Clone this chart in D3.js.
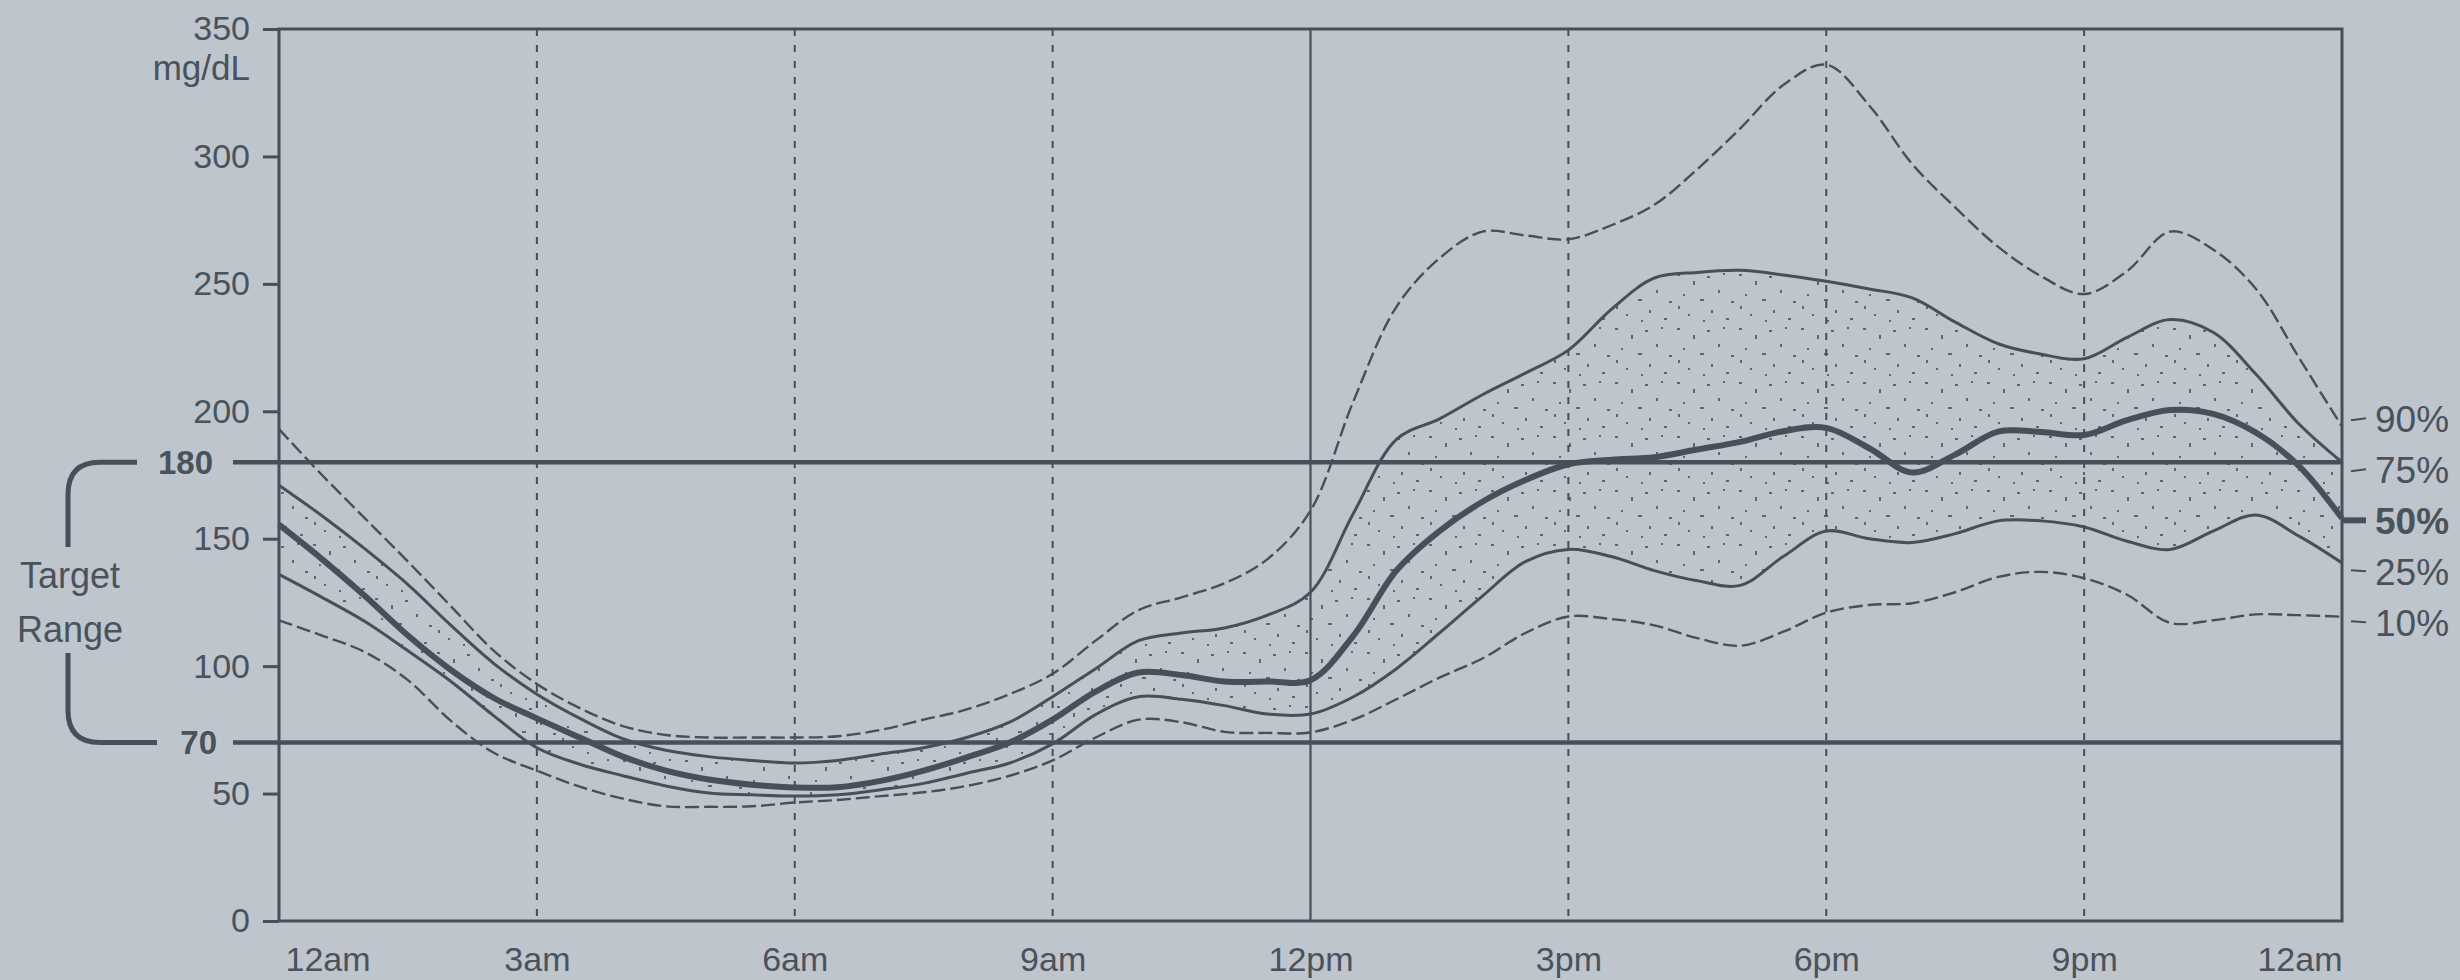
<!DOCTYPE html>
<html><head><meta charset="utf-8">
<script src="https://cdn.jsdelivr.net/npm/d3@7"></script>
<style>
html,body{margin:0;padding:0;background:#bec5cd;}
svg{display:block;}
text{font-family:"Liberation Sans",Arial,sans-serif;fill:#4a525b;}
</style></head><body>
<svg id="chart" width="2460" height="980"></svg>
<script>
// ---------- data ----------
const hours = [0,0.5,1,1.5,2,2.5,3,3.5,4,4.5,5,5.5,6,6.5,7,7.5,8,8.5,9,9.5,10,10.5,11,11.5,12,12.5,13,13.5,14,14.5,15,15.5,16,16.5,17,17.5,18,18.5,19,19.5,20,20.5,21,21.5,22,22.5,23,23.5,24];
const p90 = [193,175,158,141,123.5,106,93,83.5,76.5,73,72,72,72,72.5,75,79,83,89,97,110,122,127,132.5,142,161,204,241,260,270.5,269,267.5,273,281,295,311,328,336,320,297,280,264.5,253,246,255,270.5,263.5,248,221,194];
const p75 = [171,159,146,132,116,101,89,79.5,71.5,67,64.5,63,62,63,65.5,68,72,78,88,99,110,113,115,120,129,160,189,197,206.5,215,224,240,252.3,254.5,255.3,253.5,251,248,244.5,235,226.5,222.4,220.6,229,236,231,214.5,195,180];
const p50 = [155.5,142,127.5,112,98.5,87.5,79.5,72,64.5,59,55.5,53.5,52.4,52.5,55,59,64.2,70,79,90,97.5,96.5,94,94,94.5,112,137.5,153,164.5,173,179.2,181,182,185,188,192.2,193.5,185.5,176,183,192,191.9,190.7,196.5,200.5,199,191.6,178.5,158];
const p25 = [136,127,117.5,106,94,80.5,68,61.5,57,53,50.2,49.5,49,49.5,51.5,54,58,62,69.5,81,88,87,84.5,81.2,81.2,88,99,113,127.5,141,145.8,143,137.5,133.5,131.7,143,153,150,148.5,152,157,157,154.6,149,145.8,153,159.3,151,140.5];
const p10 = [118,112,105.5,94.5,78.5,66,59,52.7,48,45,44.8,45,46.5,47.5,49,50.5,53,57,63,72,79,78,74.2,73.8,74,79,87,95.5,103,113,119.5,118.5,116,111,108,113.5,121,124,124.7,129,135,137,134.5,128,117,118,120.3,120,119.4];
const yTicks = [0,50,100,150,200,250,300,350];
const xTickHours = [0,3,6,9,12,15,18,21,24];
const xTickLabels = ["12am","3am","6am","9am","12pm","3pm","6pm","9pm","12am"];
const dashedGridHours = [3,6,9,15,18,21];
const solidGridHours = [12];
const targetLow = 70, targetHigh = 180;
const pctLabels = ["90%","75%","50%","25%","10%"];
const unitLabel = "mg/dL";
const rangeLabel = ["Target","Range"];

// ---------- layout ----------
const W = 2460, H = 980;
const ink = "#474f58";
const bg = "#bec5cd";
const x = d3.scaleLinear().domain([0,24]).range([279,2342]);
const y = d3.scaleLinear().domain([0,350]).range([921,29]);
const svg = d3.select("#chart");
svg.append("rect").attr("width",W).attr("height",H).attr("fill",bg);

// stipple texture for inter-quartile band
const defs = svg.append("defs");
const pat = defs.append("pattern").attr("id","stipple")
  .attr("patternUnits","userSpaceOnUse").attr("width",62).attr("height",54);
[[3,4,3,2],[19,11,2,4],[33,6,3,2],[49,3,2,2],[9,24,2,2],[26,29,4,2],[44,20,2,3],[57,31,3,2],
 [14,44,2,2],[37,40,2,3],[52,48,3,2],[4,36,2,3],[29,50,2,2]]
  .forEach(d=>pat.append("rect").attr("x",d[0]).attr("y",d[1]).attr("width",d[2]).attr("height",d[3]).attr("fill",ink).attr("opacity",0.8));

const idx = d3.range(hours.length);
const curve = d3.curveCatmullRom.alpha(0.5);
svg.append("path")
  .attr("d", d3.area().x(i=>x(hours[i])).y0(i=>y(p25[i])).y1(i=>y(p75[i])).curve(curve)(idx))
  .attr("fill","url(#stipple)");

// vertical grid
svg.append("g").selectAll("line").data(dashedGridHours).join("line")
  .attr("x1",d=>x(d)).attr("x2",d=>x(d)).attr("y1",y(350)).attr("y2",y(0))
  .attr("stroke",ink).attr("stroke-width",2).attr("stroke-dasharray","7,9");
svg.append("g").selectAll("line").data(solidGridHours).join("line")
  .attr("x1",d=>x(d)).attr("x2",d=>x(d)).attr("y1",y(350)).attr("y2",y(0))
  .attr("stroke",ink).attr("stroke-width",2.2);

// target range lines
svg.append("g").selectAll("line").data([targetHigh,targetLow]).join("line")
  .attr("x1",233).attr("x2",x(24)).attr("y1",d=>y(d)).attr("y2",d=>y(d))
  .attr("stroke",ink).attr("stroke-width",4.5);

// percentile curves
const line = arr => d3.line().x(i=>x(hours[i])).y(i=>y(arr[i])).curve(curve)(idx);
const series = [
  {v:p90, w:2.4, dash:"14,5"},
  {v:p75, w:3, dash:null},
  {v:p50, w:6, dash:null},
  {v:p25, w:3, dash:null},
  {v:p10, w:2.4, dash:"14,5"}
];
series.forEach(s=>{
  svg.append("path").attr("d",line(s.v)).attr("fill","none")
    .attr("stroke",ink).attr("stroke-width",s.w)
    .attr("stroke-dasharray",s.dash).attr("stroke-linejoin","round");
});

// frame
svg.append("rect").attr("x",x(0)).attr("y",y(350)).attr("width",x(24)-x(0)).attr("height",y(0)-y(350))
  .attr("fill","none").attr("stroke",ink).attr("stroke-width",3);

// y axis
const yAxis = svg.append("g").attr("transform",`translate(${x(0)},0)`)
  .call(d3.axisLeft(y).tickValues(yTicks).tickSize(16).tickPadding(13));
yAxis.select(".domain").remove();
yAxis.selectAll(".tick line").attr("stroke",ink).attr("stroke-width",3);
yAxis.selectAll(".tick text").attr("font-size",34).attr("fill",ink)
  .style("font-family","'Liberation Sans',Arial,sans-serif");

// x axis
const xAxis = svg.append("g").attr("transform",`translate(0,${y(0)})`)
  .call(d3.axisBottom(x).tickValues(xTickHours).tickFormat((d,i)=>xTickLabels[i]).tickSize(0).tickPadding(26));
xAxis.select(".domain").remove();
xAxis.selectAll(".tick text").attr("font-size",34).attr("fill",ink)
  .style("font-family","'Liberation Sans',Arial,sans-serif")
  .attr("text-anchor",(d,i)=> i===0 ? "start" : (i===xTickHours.length-1 ? "end" : "middle"))
  .attr("dx",(d,i)=> i===0 ? 6 : 0);

// unit label
svg.append("text").attr("x",250).attr("y",80).attr("text-anchor","end").attr("font-size",35).text(unitLabel);

// target labels
svg.append("text").attr("x",213).attr("y",y(targetHigh)).attr("dy","0.36em").attr("text-anchor","end")
  .attr("font-size",33).attr("font-weight","bold").text(targetHigh);
svg.append("text").attr("x",217).attr("y",y(targetLow)).attr("dy","0.36em").attr("text-anchor","end")
  .attr("font-size",33).attr("font-weight","bold").text(targetLow);

// bracket
const bx = 68, br = 32;
const yHi = y(targetHigh), yLo = y(targetLow);
svg.append("path")
  .attr("d",`M137,${yHi} H${bx+br} Q${bx},${yHi} ${bx},${yHi+br} V547 M${bx},653 V${yLo-br} Q${bx},${yLo} ${bx+br},${yLo} H157`)
  .attr("fill","none").attr("stroke",ink).attr("stroke-width",5);
svg.append("text").attr("x",70).attr("y",588).attr("text-anchor","middle").attr("font-size",36).text(rangeLabel[0]);
svg.append("text").attr("x",70).attr("y",642).attr("text-anchor","middle").attr("font-size",36).text(rangeLabel[1]);

// percentile labels on the right
const labelMid = y(p50[p50.length-1]) + 2;
pctLabels.forEach((t,i)=>{
  const cy = labelMid + (i-2)*51;
  svg.append("text").attr("x",2375).attr("y",cy).attr("dy","0.36em")
    .attr("font-size",37).attr("font-weight", i===2 ? "bold" : "normal").text(t);
  if (i===2) {
    svg.append("line").attr("x1",x(24)).attr("x2",2366).attr("y1",cy).attr("y2",cy)
      .attr("stroke",ink).attr("stroke-width",6);
  } else {
    svg.append("line").attr("x1",2351).attr("x2",2366).attr("y1",cy+(i<2?2:-1)).attr("y2",cy)
      .attr("stroke",ink).attr("stroke-width",2);
  }
});
</script>
</body></html>
